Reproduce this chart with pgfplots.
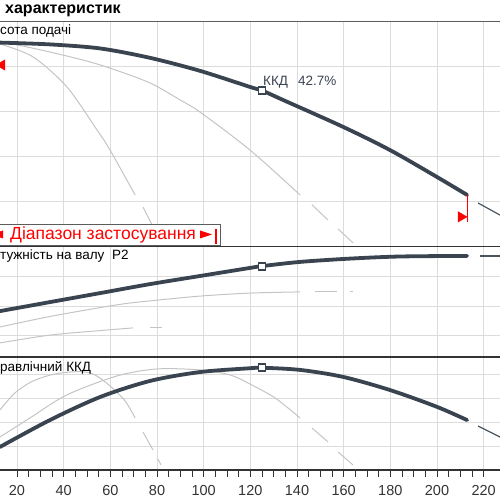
\documentclass[border=0pt]{standalone}
\usepackage{pgfplots}
\pgfplotsset{compat=1.18}
\usepackage{fontspec}
\setmainfont{Liberation Sans}
\definecolor{maincol}{HTML}{3A4450}
\definecolor{gridcol}{HTML}{DCDCDC}
\definecolor{thincol}{HTML}{C4C4C4}
\definecolor{framecol}{HTML}{333333}
\definecolor{rangered}{HTML}{FF0000}
\definecolor{dashcol}{HTML}{4A5560}
\pgfplotsset{
  panel/.style={scale only axis, width=500pt, xmin=12.714, xmax=227.0,
    axis line style={draw=none}, grid=major,
    major grid style={gridcol, line width=1pt},
    xtick={20,40,...,220}, yticklabels={},
    ytick style={draw=none}, xtick style={draw=none},
    clip=true, anchor=south west},
  mainline/.style={maincol, line width=3.8pt, smooth, line cap=round},
  thinline/.style={thincol, line width=1pt, smooth},
  contline/.style={dashcol, line width=1.2pt},
  bep/.style={only marks, mark=square*, mark size=3.5pt,
    mark options={fill=white, draw=maincol, line width=1.8pt}},
}
\begin{document}
\begin{tikzpicture}
\useasboundingbox (0pt,0pt) rectangle (500pt,500pt);
\clip (0pt,0pt) rectangle (500pt,500pt);

% ---------- panel 1: head ----------
\begin{axis}[panel, at={(0pt,254pt)}, height=224pt, ymin=0, ymax=5,
  ytick={1,2,3,4}, xticklabels={}]
\addplot[thinline] coordinates {(12.7,4.51)(26.9,4.22)(41.4,3.55)(54.3,2.59)(59.9,2.14)(70.6,1.14)};
\addplot[thinline] coordinates {(74.0,0.87)(77.9,0.47)};
\addplot[thinline] coordinates {(12.7,4.55)(20,4.49)(34.1,4.33)(48.3,4.15)(59.9,3.97)(77.0,3.64)(89.9,3.26)(98.4,2.99)(119.9,2.14)(141.3,1.14)};
\addplot[thinline] coordinates {(146.4,0.92)(153.3,0.58)};
\addplot[thinline] coordinates {(157.6,0.38)(164.0,0.07)};
\addplot[mainline] coordinates {(12.7,4.54)(34.1,4.50)(55.6,4.41)(77.0,4.20)(98.4,3.91)(119.9,3.55)(125.0,3.47)(134.0,3.26)(159.7,2.66)(179.9,2.14)(200.0,1.54)(212.9,1.14)};
\addplot[contline] coordinates {(217.6,0.96)(227.0,0.69)};
\addplot[rangered, line width=0.8pt] coordinates {(212.9,1.14)(212.9,0.54)};
\addplot[only marks, mark=triangle*, mark size=6pt, color=rangered, mark options={rotate=-90}] coordinates {(210.3,0.65)};
\addplot[only marks, mark=triangle*, mark size=6pt, color=rangered, mark options={rotate=90}] coordinates {(13.57,4.04)};
\addplot[bep] coordinates {(125.0,3.47)};
\end{axis}

% ---------- panel 2: power ----------
\begin{axis}[panel, at={(0pt,143pt)}, height=110.3pt, ymin=0, ymax=3.677,
  ytick={0.7,1.7,2.7}, xticklabels={}]
\addplot[thinline] coordinates {(12.7,1.0)(34.1,1.35)(62.9,1.74)(77.0,1.87)(98.4,2.03)(119.9,2.13)(141.3,2.17)};
\addplot[thinline] coordinates {(147.7,2.17)(157.1,2.17)};
\addplot[thinline] coordinates {(162.7,2.17)(164.0,2.17)};
\addplot[thinline] coordinates {(12.7,0.47)(34.1,0.73)(55.6,0.88)(69.7,0.97)};
\addplot[thinline] coordinates {(77.0,0.97)(82.1,0.97)};
\addplot[mainline] coordinates {(12.7,1.53)(34.1,1.83)(55.6,2.13)(77.0,2.43)(98.4,2.70)(119.9,2.97)(125.0,3.03)(141.3,3.17)(162.7,3.28)(184.1,3.35)(212.9,3.37)};
\addplot[contline] coordinates {(218.4,3.37)(227.0,3.37)};
\addplot[bep] coordinates {(125.0,3.03)};
\end{axis}

% ---------- panel 3: efficiency ----------
\begin{axis}[panel, at={(0pt,30pt)}, height=113pt, ymin=0, ymax=4.708,
  ytick={0.97,1.97,2.97,3.97},
  xtick style={draw=framecol, line width=1pt},
  minor x tick num=3, tick align=outside, xtick pos=left,
  major tick length=7pt, minor tick length=7pt,
  xticklabel style={font=\fontsize{14.5}{14.5}\selectfont, text=framecol, yshift=-5pt},
  /pgf/number format/assume math mode=true]
\addplot[thinline] coordinates {(12.7,2.5)(19.1,3.21)(26.9,3.71)(36.3,4.0)(47.0,4.1)(53.4,3.96)(59.9,3.5)(66.3,2.88)(70.6,2.17)};
\addplot[thinline] coordinates {(74.0,1.58)(78.3,0.83)};
\addplot[thinline] coordinates {(80.4,0.46)(81.7,0.21)};
\addplot[thinline] coordinates {(12.7,1.375)(25.6,2.17)(41.4,3.13)(62.9,3.92)(80.0,4.21)(98.4,4.17)(111.3,3.96)(119.9,3.58)(130.6,3.0)(141.3,2.17)};
\addplot[thinline] coordinates {(146.4,1.75)(153.3,1.17)};
\addplot[thinline] coordinates {(157.6,0.75)(164.0,0.21)};
\addplot[mainline] coordinates {(12.7,0.96)(34.1,2.08)(55.6,3.04)(77.0,3.71)(98.4,4.08)(119.9,4.24)(125.0,4.26)(141.3,4.17)(159.7,3.88)(179.9,3.33)(200.0,2.63)(212.9,2.08)};
\addplot[contline] coordinates {(217.6,1.83)(227.0,1.375)};
\addplot[bep] coordinates {(125.0,4.26)};
\end{axis}

% ---------- frame lines ----------
\draw[framecol!80, line width=1pt] (0pt,478pt) -- (500pt,478pt);
\draw[framecol, line width=1.2pt] (0pt,253.3pt) -- (500pt,253.3pt);
\draw[framecol, line width=1.2pt] (0pt,143pt) -- (500pt,143pt);
\draw[framecol, line width=1.2pt] (0pt,30pt) -- (500pt,30pt);

% ---------- application range box ----------
\draw[fill=white, draw=framecol!80, line width=0.8pt] (-5pt,255pt) rectangle (220pt,276pt);
\fill[rangered] (3pt,261.5pt) -- (-9pt,265.5pt) -- (3pt,269.5pt) -- cycle;
\node[anchor=base west, inner sep=0pt, text=rangered, font=\fontsize{17.5}{17.5}\selectfont] at (10pt,260pt) {Діапазон застосування};
\fill[rangered] (200pt,261.5pt) -- (212pt,265.5pt) -- (200pt,269.5pt) -- cycle;
\draw[rangered, line width=2pt] (216pt,256pt) -- (216pt,271pt);

% ---------- texts ----------
\node[anchor=base west, inner sep=0pt, text=black, font=\fontsize{16}{16}\selectfont\bfseries] at (5pt,486.7pt) {характеристик};
\node[anchor=base west, inner sep=0pt, text=black, font=\fontsize{13.5}{13.5}\selectfont] at (0pt,465pt) {сота подачі};
\node[anchor=base west, inner sep=0pt, text=black, font=\fontsize{13.5}{13.5}\selectfont] at (0pt,240pt) {тужність на валу\hspace{4pt} P2};
\node[anchor=base west, inner sep=0pt, text=black, font=\fontsize{13.5}{13.5}\selectfont] at (0pt,128pt) {равлічний ККД};
\node[anchor=base west, inner sep=0pt, text=maincol, font=\fontsize{13.5}{13.5}\selectfont] at (263pt,414pt) {ККД\hspace{10pt}42.7\%};
\end{tikzpicture}
\end{document}
